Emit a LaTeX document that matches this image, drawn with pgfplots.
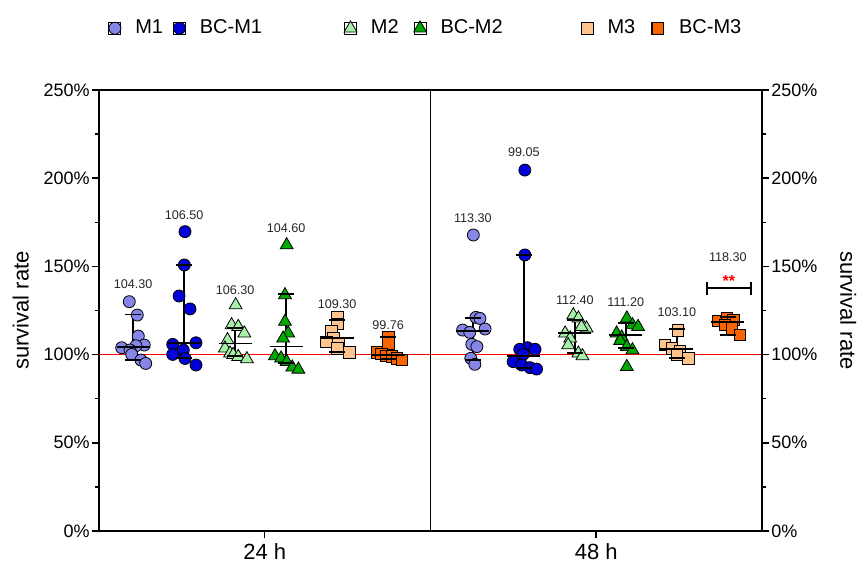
\documentclass[border=0pt]{standalone}
\usepackage{fontspec}
\setmainfont{Liberation Sans}
\usepackage{pgfplots}
\pgfplotsset{compat=1.18}
\definecolor{cMone}{HTML}{8686E8}
\definecolor{cBCMone}{HTML}{0000D8}
\definecolor{cMtwo}{HTML}{A8F0A8}
\definecolor{cBCMtwo}{HTML}{00A800}
\definecolor{cMthree}{HTML}{FFC48E}
\definecolor{cBCMthree}{HTML}{F96400}
\pgfplotsset{
  sc/.style={only marks, mark options={draw=black!65, line width=0.35pt},
    legend image code/.code={\path (-3pt,-3pt) rectangle (3pt,3pt); \draw[##1, draw=none] plot coordinates {(0pt,0pt)};}},
}
\newcommand{\grp}[4]{%
  \addplot[forget plot, black, line width=0.9pt, mark=-, mark size=4pt, mark options={solid, line width=0.9pt}] coordinates {(#1,#2) (#1,#4)};
  \addplot[forget plot, black, line width=0.9pt, only marks, mark=-, mark size=8.3pt, mark options={line width=0.9pt}] coordinates {(#1,#3)};
}
\begin{document}
\begin{tikzpicture}
\path[use as bounding box] (-49.5pt,-16pt) rectangle (380pt,265.5pt);
\begin{axis}[
  scale only axis, width=331.5pt, height=220.5pt,
  xmin=0, xmax=13, ymin=0, ymax=250,
  clip=false,
  axis line style={line width=0.75pt},
  every tick/.style={black, line width=0.75pt},
  tick align=outside,
  major tick length=3.5pt, minor tick length=2pt,
  xtick={3.25,9.75}, xticklabels={24 h, 48 h}, xtick pos=bottom,
  xticklabel style={font=\fontsize{11}{13}\selectfont, inner sep=2.5pt},
  ytick={0,50,...,250}, minor y tick num=1, ytick pos=left,
  /pgf/number format/assume math mode=true,
  yticklabel={\pgfmathprintnumber{\tick}\%},
  yticklabel style={font=\fontsize{9}{11}\selectfont, inner sep=1pt},
  ylabel={survival rate},
  ylabel style={at={(axis description cs:-0.118,0.5)}, anchor=center, font=\fontsize{11}{13}\selectfont},
  legend columns=6, legend cell align=left,
  legend style={draw=none, fill=none, inner sep=0pt, outer sep=0pt, column sep=0pt, row sep=0pt,
    at={(axis description cs:0.01433,1.14)}, anchor=west,
    font=\fontsize{10}{12}\selectfont, nodes={inner sep=0pt}},
]
\addplot[forget plot, red, line width=0.6pt] coordinates {(0,100) (13,100)};
\addplot[forget plot, black, line width=0.75pt] coordinates {(6.5,0) (6.5,250)};
\addplot[forget plot, black, line width=0.75pt] coordinates {(-0.12,0) (0,0)};

% M1
\addplot[sc, mark=*, mark size=3.0pt, mark options={fill=cMone}] coordinates {
 (0.594,130.0) (0.751,122.4) (0.771,110.5) (0.888,105.4) (0.725,105.0) (0.445,103.9) (0.608,102.6) (0.641,100.1) (0.824,96.9) (0.916,95.0)
 (7.34,167.8) (7.39,121.1) (7.47,120.5) (7.13,113.9) (7.57,114.5) (7.27,112.6) (7.31,105.8) (7.41,104.5) (7.29,97.9) (7.37,94.5)};
\addlegendentry{\hspace*{7pt}M1\hspace*{5pt}}
% BC-M1
\addplot[sc, mark=*, mark size=3.0pt, mark options={fill=cBCMone}] coordinates {
 (1.686,169.7) (1.673,150.8) (1.569,133.2) (1.784,125.9) (1.445,105.8) (1.902,106.7) (1.653,102.6) (1.445,100.1) (1.686,97.8) (1.902,94.1)
 (8.35,204.6) (8.35,156.5) (8.40,103.9) (8.25,103.0) (8.55,103.0) (8.32,100.2) (8.12,96.0) (8.29,94.1) (8.45,92.6) (8.58,91.8)};
\addlegendentry{\hspace*{7pt}BC-M1\hspace*{41pt}}
% M2
\addplot[sc, mark=triangle*, mark size=3.7pt, mark options={fill=cMtwo}] coordinates {
 (2.68,128.1) (2.60,116.8) (2.73,115.8) (2.85,112.1) (2.52,108.3) (2.47,103.6) (2.57,100.7) (2.63,99.9) (2.73,98.8) (2.90,97.5)
 (9.30,122.4) (9.40,120.6) (9.56,114.9) (9.46,115.8) (9.14,112.1) (9.24,109.2) (9.20,105.4) (9.40,100.7) (9.48,99.2)};
\addlegendentry{\hspace*{7pt}M2\hspace*{7.5pt}}
% BC-M2
\addplot[sc, mark=triangle*, mark size=3.7pt, mark options={fill=cBCMtwo}] coordinates {
 (3.68,162.1) (3.647,133.8) (3.647,118.7) (3.71,112.1) (3.61,109.2) (3.45,99.2) (3.57,97.9) (3.68,96.0) (3.79,92.8) (3.91,91.6)
 (10.35,120.6) (10.46,116.8) (10.57,115.8) (10.15,112.1) (10.25,109.8) (10.22,107.9) (10.35,104.5) (10.46,102.6) (10.35,93.1)};
\addlegendentry{\hspace*{7pt}BC-M2\hspace*{39pt}}
% M3
\addplot[sc, mark=square*, mark size=2.9pt, mark options={fill=cMthree}] coordinates {
 (4.68,121.1) (4.68,117.5) (4.56,113.0) (4.60,109.3) (4.46,107.3) (4.69,106.7) (4.68,103.6) (4.91,101.1)
 (11.35,113.6) (11.10,105.4) (11.23,103.6) (11.39,101.7) (11.56,97.9) (11.33,99.8)};
\addlegendentry{\hspace*{7pt}M3\hspace*{8pt}}
% BC-M3
\addplot[sc, mark=square*, mark size=2.9pt, mark options={fill=cBCMthree}] coordinates {
 (5.67,109.8) (5.67,106.4) (5.45,101.3) (5.54,100.4) (5.64,99.3) (5.74,98.9) (5.84,98.0) (5.94,97.1)
 (12.14,119.2) (12.31,120.5) (12.44,119.6) (12.27,116.8) (12.41,115.0) (12.57,111.1)};
\addlegendentry{\hspace*{7.5pt}BC-M3}

% medians and intervals
\grp{0.67}{96.9}{104.3}{122.7}
\grp{1.67}{98.0}{106.5}{150.8}
\grp{2.67}{99.2}{106.3}{115.3}
\grp{3.67}{95.1}{104.6}{134.2}
\grp{4.67}{101.6}{109.3}{119.6}
\grp{5.67}{97.3}{99.76}{109.8}
\grp{7.33}{96.9}{113.3}{120.6}
\grp{8.33}{92.2}{99.05}{156.5}
\grp{9.33}{101.1}{112.4}{119.6}
\grp{10.33}{103.6}{111.2}{118.1}
\grp{11.33}{97.9}{103.1}{114.5}
\grp{12.33}{111.1}{118.3}{121.5}

% significance bracket
\addplot[forget plot, black, line width=1pt] coordinates {(11.92,137.6) (12.78,137.6)};
\addplot[forget plot, black, line width=1pt] coordinates {(11.92,133.9) (11.92,141.3)};
\addplot[forget plot, black, line width=1pt] coordinates {(12.78,133.9) (12.78,141.3)};
\node[red, font=\bfseries\fontsize{8}{9}\selectfont] at (axis cs:12.35,141.5) {**};

% value labels
\begin{scope}[every node/.style={font=\fontsize{6.3}{7}\selectfont, text=black!85}]
\node at (axis cs:0.67,140.0) {104.30};
\node at (axis cs:1.67,179.0) {106.50};
\node at (axis cs:2.67,136.6) {106.30};
\node at (axis cs:3.67,171.6) {104.60};
\node at (axis cs:4.67,128.7) {109.30};
\node at (axis cs:5.67,116.8) {99.76};
\node at (axis cs:7.33,177.3) {113.30};
\node at (axis cs:8.33,214.7) {99.05};
\node at (axis cs:9.33,130.6) {112.40};
\node at (axis cs:10.33,129.6) {111.20};
\node at (axis cs:11.33,124.3) {103.10};
\node at (axis cs:12.33,155.5) {118.30};
\end{scope}
\end{axis}
\begin{axis}[
  scale only axis, width=331.5pt, height=220.5pt,
  xmin=0, xmax=13, ymin=0, ymax=250,
  axis x line=none, axis y line*=right,
  y axis line style={line width=0.75pt, -},
  every tick/.style={black, line width=0.75pt},
  tick align=outside,
  major tick length=3.5pt, minor tick length=2pt,
  ytick={0,50,...,250}, minor y tick num=1,
  /pgf/number format/assume math mode=true,
  yticklabel={\pgfmathprintnumber{\tick}\%},
  yticklabel style={font=\fontsize{9}{11}\selectfont, inner sep=1pt},
  ylabel={survival rate},
  every axis y label/.style={at={(axis description cs:1.13,0.5)}, anchor=center, rotate=-90, font=\fontsize{11}{13}\selectfont},
]
\end{axis}
\end{tikzpicture}
\end{document}
